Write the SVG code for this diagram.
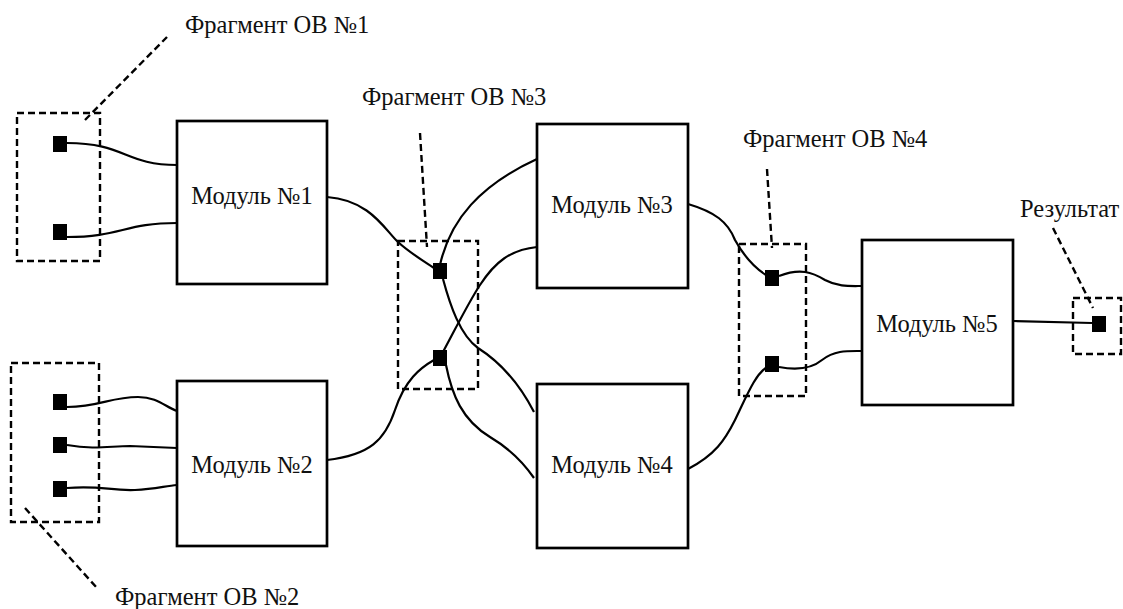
<svg xmlns="http://www.w3.org/2000/svg" width="1123" height="609" viewBox="0 0 1123 609">
<style>
.mod{fill:#fff;stroke:#000;stroke-width:2.7}
.frag{fill:none;stroke:#000;stroke-width:2.4;stroke-dasharray:7 4}
.lead{fill:none;stroke:#000;stroke-width:2.4;stroke-dasharray:7 4}
.wire{fill:none;stroke:#000;stroke-width:2.2}
.pt{fill:#000}
text{font-family:"Liberation Serif","Times New Roman",serif;fill:#111}
.mt{font-size:24.5px;text-anchor:middle}
.lt{font-size:24.5px}
</style>
<rect width="1123" height="609" fill="#fff"/>
<g id="connectors">
<path class="wire" d="M67,143 C125,143 125,165 177,165"/>
<path class="wire" d="M67,237 C120,237 125,223 177,223"/>
<path class="wire" d="M67,407 C100,407 110,397 138,397 C158,397 165,407 177,411"/>
<path class="wire" d="M67,445 C95,450 110,446 130,446 L177,448"/>
<path class="wire" d="M67,488 C100,485 110,491 135,490 C155,489 165,486 177,485"/>
<path class="wire" d="M327,197 C370,200 385,230 398,242 C410,253 425,262 434,268"/>
<path class="wire" d="M440,265 C450,220 480,185 537,159"/>
<path class="wire" d="M443,279 C450,305 460,335 478,348 C500,362 520,385 534,412"/>
<path class="wire" d="M327,460 C370,455 385,440 395,410 C405,380 420,368 434,360"/>
<path class="wire" d="M443,352 C460,320 470,300 480,285 C495,262 510,250 537,247"/>
<path class="wire" d="M446,365 C452,395 462,420 490,437 C512,450 525,465 534,478"/>
<path class="wire" d="M688,204 C715,212 728,222 735,240 C745,258 755,268 766,275"/>
<path class="wire" d="M779,276 C800,268 812,272 825,280 C838,287 850,286 862,286"/>
<path class="wire" d="M688,469 C715,455 725,440 735,420 C748,393 755,375 767,367"/>
<path class="wire" d="M779,367 C795,370 810,370 822,360 C835,350 848,351 862,351"/>
<path class="wire" d="M1013,321 L1092,323"/>
</g>
<g id="frag1">
<rect class="frag" x="17" y="113" width="83" height="148"/>
<rect class="pt" x="53" y="136" width="14" height="16"/>
<rect class="pt" x="53" y="224" width="14" height="16"/>
<line class="lead" x1="85" y1="120" x2="167" y2="37"/>
<text class="lt" x="185" y="33">Фрагмент ОВ №1</text>
</g>
<g id="frag2">
<rect class="frag" x="11" y="363" width="88" height="159"/>
<rect class="pt" x="53" y="394" width="14" height="16"/>
<rect class="pt" x="53" y="437" width="14" height="16"/>
<rect class="pt" x="53" y="481" width="14" height="16"/>
<line class="lead" x1="25" y1="508" x2="97" y2="588"/>
<text class="lt" x="115" y="605">Фрагмент ОВ №2</text>
</g>
<g id="frag3">
<rect class="frag" x="398" y="241" width="80" height="148"/>
<rect class="pt" x="433" y="263" width="14" height="16"/>
<rect class="pt" x="433" y="350" width="14" height="16"/>
<line class="lead" x1="420" y1="133" x2="427" y2="247"/>
<text class="lt" x="362" y="105">Фрагмент ОВ №3</text>
</g>
<g id="frag4">
<rect class="frag" x="739" y="244" width="67" height="152"/>
<rect class="pt" x="765" y="270" width="14" height="16"/>
<rect class="pt" x="765" y="356" width="14" height="16"/>
<line class="lead" x1="767" y1="169" x2="772" y2="248"/>
<text class="lt" x="743" y="147">Фрагмент ОВ №4</text>
</g>
<g id="result">
<rect class="frag" x="1073" y="298" width="48" height="56"/>
<rect class="pt" x="1092" y="316" width="14" height="16"/>
<line class="lead" x1="1053" y1="228" x2="1093" y2="308"/>
<text class="lt" x="1020" y="217">Результат</text>
</g>
<g id="module1">
<rect class="mod" x="177" y="121" width="150" height="163"/>
<text class="mt" x="252" y="204">Модуль №1</text>
</g>
<g id="module2">
<rect class="mod" x="177" y="381" width="150" height="165"/>
<text class="mt" x="252" y="473">Модуль №2</text>
</g>
<g id="module3">
<rect class="mod" x="537" y="124" width="151" height="164"/>
<text class="mt" x="612" y="213">Модуль №3</text>
</g>
<g id="module4">
<rect class="mod" x="537" y="384" width="151" height="164"/>
<text class="mt" x="612" y="473">Модуль №4</text>
</g>
<g id="module5">
<rect class="mod" x="862" y="240" width="151" height="165"/>
<text class="mt" x="937" y="332">Модуль №5</text>
</g>
</svg>
